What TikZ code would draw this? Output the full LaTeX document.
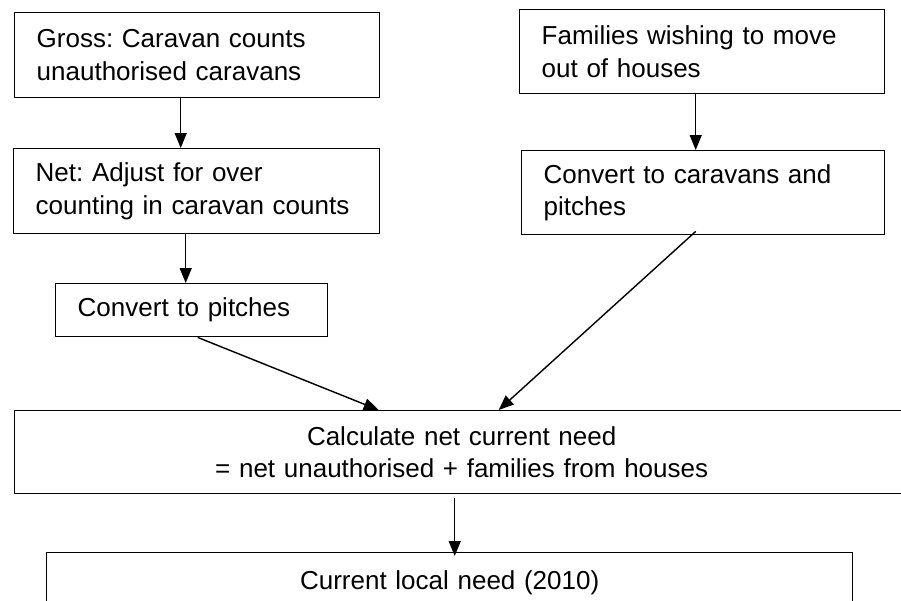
\documentclass[tikz,border=0pt]{standalone}
\usepackage{fontspec}
\setmainfont{Liberation Sans}
\usepackage{tikz}
\usetikzlibrary{positioning,arrows.meta}
\frenchspacing

\begin{document}
\begin{tikzpicture}[
        box/.style={draw, line width=0.8pt, rectangle, anchor=north west, align=left,
            inner xsep=0.44cm, inner ysep=0pt,
            font=\fontsize{14.8}{18.4}\selectfont},
        flow/.style={line width=0.8pt, -{Triangle[length=0.3cm, width=0.24cm]}}
    ]
    \useasboundingbox (0,0) rectangle (18.02,-12);

    % left column
    \node[box, text width=6.42cm, minimum height=1.7cm] (gross) at (0.28,-0.24)
        {Gross: Caravan counts\\unauthorised caravans};
    \node[box, text width=6.44cm, minimum height=1.7cm] (net) at (0.26,-2.96)
        {Net: Adjust for over\\counting in caravan counts};
    \node[box, text width=4.56cm, minimum height=1.06cm] (pitch) at (1.1,-5.66)
        {Convert to pitches};

    % right column
    \node[box, text width=6.42cm, minimum height=1.68cm] (fam) at (10.38,-0.18)
        {Families wishing to move\\out of houses};
    \node[box, text width=6.38cm, minimum height=1.68cm] (conv) at (10.42,-3.0)
        {Convert to caravans and\\pitches};

    % bottom
    \node[box, align=center, text width=17.0cm, minimum height=1.66cm] (calc) at (0.28,-8.2)
        {Calculate net current need\\= net unauthorised + families from houses};
    \node[box, align=center, text width=15.24cm, minimum height=1.2cm, inner ysep=0.2cm] (final) at (0.92,-11.04)
        {Current local need (2010)\\[4pt]};

    \draw[flow] ([xshift=-0.33cm]gross.south) -- ([xshift=-0.33cm]gross.south |- net.north) ;
    \draw[flow] ([xshift=-0.13cm]fam.south) -- ([xshift=-0.13cm]fam.south |- conv.north) ;
    \draw[flow] ([xshift=-0.22cm]net.south) -- ([xshift=-0.22cm]net.south |- pitch.north) ;
    \draw[flow] ([xshift=0.12cm]pitch.south) -- ([xshift=-1.66cm]calc.north) ;
    \draw[flow] ([xshift=-0.15cm, yshift=0.08cm]conv.south) -- ([xshift=0.74cm]calc.north) ;
    \draw[flow] ([xshift=-0.14cm, yshift=-0.08cm]calc.south) -- ([xshift=-0.14cm, yshift=-0.08cm]calc.south |- final.north) ;

\end{tikzpicture}
\end{document}
